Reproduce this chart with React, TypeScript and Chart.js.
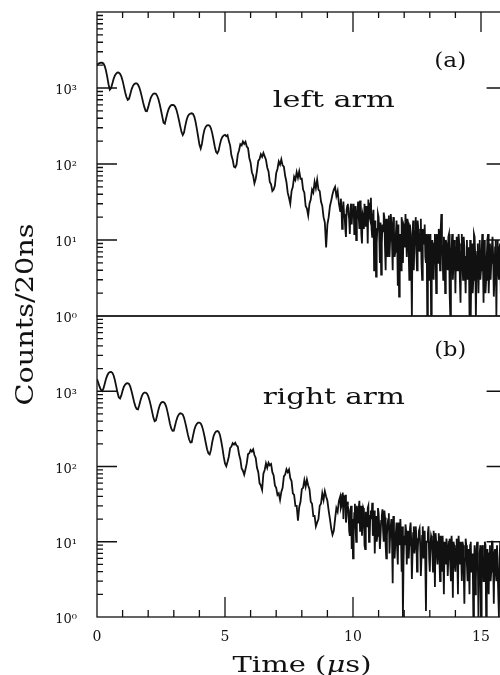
import { useEffect, useRef } from "react";
import { Chart, registerables } from "chart.js";

Chart.register(...registerables);

// ---- data ----
const TIME_START_US = 0;
const TIME_STEP_US = 0.05; // bin spacing used for the hand-read samples
const TAIL_START_US = 9.525; // extra samples read in the noisy tail, between the main ones
const TAIL_STEP_US = 0.05;
const X_MIN = 0;
const X_MAX = 16;
const X_TICK_LABELS = [0, 5, 10, 15];
const Y_MIN = 1;
const Y_MAX = 10000;
const Y_DECADES = [1, 10, 100, 1000];

// counts per 20 ns, panel (a) "left arm"
const LEFT_ARM_COUNTS = [
  2000, 2080, 2130, 2160, 2150, 2100, 1950, 1700, 1400, 1120, 950, 1000, 1150, 1320, 1460, 1550, 1600, 1590, 1540, 1420,
  1250, 1050, 880, 760, 700, 720, 830, 960, 1060, 1120, 1150, 1150, 1110, 1020, 900, 770, 650, 560, 500, 495,
  560, 650, 740, 800, 840, 850, 840, 790, 710, 610, 510, 420, 350, 340, 400, 470, 530, 570, 595, 600,
  595, 570, 520, 450, 380, 315, 265, 240, 260, 320, 380, 425, 450, 462, 465, 455, 420, 360, 290, 230,
  180, 160, 185, 240, 285, 310, 322, 325, 320, 295, 255, 210, 170, 145, 138, 150, 180, 210, 228, 238,
  242, 232, 240, 200, 176, 130, 114, 92, 90, 98, 134, 152, 182, 176, 198, 184, 196, 170, 162, 120,
  104, 78, 70, 56, 64, 82, 110, 116, 134, 124, 140, 126, 114, 90, 80, 58, 54, 44, 46, 52,
  76, 86, 108, 98, 115, 96, 92, 70, 58, 42, 36, 30, 44, 50, 68, 62, 78, 66, 80, 64,
  64, 46, 42, 28, 26, 21, 30, 34, 46, 42, 58, 48, 62, 46, 44, 32, 28, 20, 17, 8,
  16, 20, 28, 33, 40, 46, 50, 38, 44, 30, 24, 27, 18, 22, 14, 25, 30, 19, 26, 16,
  22, 12, 28, 18, 32, 14, 26, 9, 20, 30, 15, 24, 34, 20, 36, 11, 25, 6, 3.3, 14,
  20, 5, 3.5, 16, 23, 8, 19, 6, 21, 10, 17, 4, 14, 7, 18, 2.5, 1.8, 12, 20, 5,
  15, 22, 6, 17, 3, 12, 1, 18, 9, 20, 4, 14, 7, 19, 3, 11, 16, 5, 1, 12,
  8, 1, 10, 3, 12, 2, 9, 14, 4, 22, 6, 11, 2, 9, 4, 12, 1, 8, 3, 10,
  2, 11, 5, 9, 1.5, 12, 3, 8, 2, 10, 4, 1, 1, 9, 3, 11, 1, 7, 2, 10,
  4, 12, 1.5, 8, 3, 10, 2, 9, 5, 11, 1.8, 8, 1, 10, 3, 9, 2, 8, 4, 10,
  3,
];
const LEFT_ARM_TAIL_COUNTS = [
  35, 14, 32, 20, 11, 28, 22, 12, 30, 24,
  30, 16, 10, 24, 20, 33, 12, 22, 14, 18,
  28, 9, 22, 30, 14, 20, 4, 18, 9, 22,
  12, 17, 9, 13, 20, 4, 14, 18, 6, 22,
  9, 20, 6, 12, 10, 16, 7, 4, 9, 16,
  8, 12, 19, 7, 16, 5, 12, 4, 13, 7,
  18, 9, 12, 5, 14, 9, 6, 12, 8, 3,
  12, 6, 4, 9, 7, 12, 5, 10, 13, 9,
  3, 8, 10, 5, 11, 2, 6, 12, 5, 7,
  8, 4, 12, 3, 7, 5, 11, 4, 6, 3,
  8, 10, 5, 2, 12, 6, 4, 9, 5, 3,
  7, 5, 10, 2, 6, 12, 4, 3, 8, 6,
  3, 10, 6, 4, 8, 2, 11, 5, 7, 3,
];

// counts per 20 ns, panel (b) "right arm"
const RIGHT_ARM_COUNTS = [
  1450, 1300, 1150, 1050, 1010, 1080, 1250, 1450, 1620, 1740, 1800, 1810, 1760, 1620, 1400, 1160, 960, 830, 800, 880,
  1020, 1150, 1230, 1270, 1280, 1250, 1150, 1000, 850, 720, 630, 580, 575, 650, 760, 860, 930, 960, 960, 930,
  860, 760, 650, 540, 450, 400, 410, 480, 570, 650, 700, 720, 718, 690, 630, 540, 450, 370, 320, 298,
  300, 350, 410, 460, 495, 510, 505, 490, 445, 380, 320, 265, 228, 208, 210, 255, 305, 345, 370, 382,
  383, 375, 345, 300, 250, 205, 170, 150, 145, 165, 210, 250, 278, 292, 296, 290, 265, 220, 175, 135,
  110, 101, 116, 136, 176, 184, 204, 196, 207, 190, 184, 144, 124, 94, 88, 78, 92, 110, 146, 150,
  166, 158, 169, 142, 130, 96, 84, 60, 56, 49, 80, 90, 110, 96, 112, 104, 108, 84, 76, 56,
  52, 42, 44, 36, 46, 52, 74, 78, 92, 84, 91, 70, 64, 44, 42, 30, 30, 19, 29, 34,
  50, 52, 66, 54, 67, 56, 50, 34, 32, 22, 22, 16, 18, 20, 30, 32, 44, 36, 47, 40,
  35, 26, 20, 15, 12.4, 14, 20, 28, 25, 35, 40, 30, 45, 38, 42, 22, 30, 14, 26, 8,
  6, 24, 15, 30, 18, 35, 22, 12, 28, 9, 25, 16, 30, 11, 26, 33, 14, 7, 22, 12,
  24, 8, 19, 27, 10, 21, 6, 17, 24, 12, 20, 2.8, 15, 9, 18, 5, 14, 20, 4, 1,
  12, 17, 5, 14, 9, 18, 3.2, 13, 7, 16, 4, 11, 15, 3.5, 12, 6, 14, 1.2, 10, 16,
  4, 12, 7, 14, 2.5, 10, 5, 13, 3, 9, 12, 2, 8, 11, 3.5, 10, 5, 12, 1.8, 9,
  4, 11, 2, 8, 10, 3, 9, 1.5, 11, 5, 8, 2, 10, 4, 1, 9, 3, 10, 1, 7,
  1, 9, 3, 10, 1, 8, 2, 9, 4, 10, 1.5, 8, 3, 9, 1, 10, 2.5, 8, 1.2, 9,
  3,
];
const RIGHT_ARM_TAIL_COUNTS = [
  28, 42, 20, 36, 18, 34, 26, 12, 30, 20,
  14, 32, 10, 20, 28, 14, 30, 18, 26, 8,
  18, 28, 10, 22, 20, 12, 26, 18, 10, 28,
  16, 12, 22, 14, 26, 9, 12, 20, 7, 16,
  10, 22, 6, 13, 8, 18, 9, 12, 16, 6,
  9, 14, 11, 6, 15, 10, 7, 16, 9, 12,
  7, 14, 9, 6, 16, 9, 5, 10, 13, 6,
  9, 11, 4, 8, 13, 7, 10, 6, 12, 4,
  7, 10, 5, 9, 6, 11, 3, 8, 10, 5,
  8, 6, 12, 5, 7, 10, 4, 6, 9, 3,
  6, 9, 4, 7, 5, 2, 8, 6, 4, 9,
  5, 7, 3, 9, 6, 4, 7, 3, 10, 5,
  7, 4, 9, 2, 6, 8, 3, 9, 5, 6,
];

const PANEL_LABELS = ["(a)", "(b)"];
const ARM_LABELS = ["left arm", "right arm"];
const X_TITLE = ["Time (", "μ", "s)"];
const Y_TITLE = "Counts/20ns";

// ---- style ----
const INK = "#111";
const SERIF = "'DejaVu Serif', 'Liberation Serif', serif";

const SUP: Record<string, string> = {
  "0": "⁰", "1": "¹", "2": "²", "3": "³", "4": "⁴", "5": "⁵", "6": "⁶", "7": "⁷", "8": "⁸", "9": "⁹",
};
const powerLabel = (v: number) => {
  if (!Y_DECADES.includes(v)) return "";
  const e = Math.round(Math.log10(v));
  return "10" + String(e).split("").map((d) => SUP[d]).join("");
};

function drawStretched(
  ctx: CanvasRenderingContext2D,
  text: string,
  cx: number,
  baseline: number,
  font: string,
  targetWidth: number
) {
  ctx.save();
  ctx.font = font;
  const w = ctx.measureText(text).width;
  ctx.translate(cx, baseline);
  ctx.scale(targetWidth / w, 1);
  ctx.textAlign = "center";
  ctx.textBaseline = "alphabetic";
  ctx.fillText(text, 0, 0);
  ctx.restore();
}

const frameTextPlugin = {
  id: "frameText",
  afterDatasetsDraw(chart: any) {
    const ctx: CanvasRenderingContext2D = chart.ctx;
    const xs = chart.scales.x;
    const panels = [chart.scales.yTop, chart.scales.yBot];
    const L = chart.chartArea.left;
    const R = chart.chartArea.right;
    ctx.save();
    ctx.strokeStyle = INK;
    ctx.fillStyle = INK;
    ctx.lineWidth = 1.3;
    panels.forEach((ys: any, pi: number) => {
      const T = ys.top;
      const B = ys.bottom;
      ctx.strokeRect(L, T, R - L, B - T);
      ctx.beginPath();
      for (let k = 0; k < 4; k++) {
        for (let m = 1; m <= 9; m++) {
          const v = m * Math.pow(10, k);
          if (v <= Y_MIN) continue;
          const py = ys.getPixelForValue(v);
          const len = m === 1 ? 20 : 6;
          ctx.moveTo(L, py);
          ctx.lineTo(L + len, py);
          ctx.moveTo(R, py);
          ctx.lineTo(R - len, py);
        }
      }
      for (let t = X_MIN + 1; t < X_MAX; t++) {
        const px = xs.getPixelForValue(t);
        const len = t % 5 === 0 ? 20 : pi === 0 ? 6 : 7;
        if (pi === 0) {
          ctx.moveTo(px, T);
          ctx.lineTo(px, T + len);
        } else {
          ctx.moveTo(px, B);
          ctx.lineTo(px, B - len);
        }
      }
      ctx.stroke();

      // annotations
      const labelX = xs.getPixelForValue(13.8);
      const labelY = ys.getPixelForValue(pi === 0 ? 1900 : 2900);
      drawStretched(ctx, PANEL_LABELS[pi], labelX, labelY, `20px ${SERIF}`, 32);
      const armX = xs.getPixelForValue(9.25);
      const armY = ys.getPixelForValue(pi === 0 ? 560 : 670);
      drawStretched(ctx, ARM_LABELS[pi], armX, armY, `23px ${SERIF}`, pi === 0 ? 122 : 142);
    });

    // y title (rotated)
    const midY = (panels[0].top + panels[1].bottom) / 2;
    ctx.save();
    ctx.translate(33, midY);
    ctx.rotate(-Math.PI / 2);
    ctx.font = `25px ${SERIF}`;
    const yw = ctx.measureText(Y_TITLE).width;
    ctx.scale(182 / yw, 1);
    ctx.textAlign = "center";
    ctx.textBaseline = "alphabetic";
    ctx.fillText(Y_TITLE, 0, 0);
    ctx.restore();

    // x title with italic mu
    const fonts = [`22px ${SERIF}`, `italic 22px ${SERIF}`, `22px ${SERIF}`];
    let total = 0;
    const widths = X_TITLE.map((s, i) => {
      ctx.font = fonts[i];
      const w = ctx.measureText(s).width;
      total += w;
      return w;
    });
    const target = 139;
    const sx = target / total;
    ctx.save();
    ctx.translate(302 - target / 2, 672);
    ctx.scale(sx, 1);
    ctx.textAlign = "left";
    ctx.textBaseline = "alphabetic";
    let cur = 0;
    X_TITLE.forEach((s, i) => {
      ctx.font = fonts[i];
      ctx.fillText(s, cur, 0);
      cur += widths[i];
    });
    ctx.restore();
    ctx.restore();
  },
};

export default function App() {
  const ref = useRef<HTMLCanvasElement | null>(null);

  useEffect(() => {
    if (!ref.current) return;
    const toPoints = (main: number[], tail: number[]) =>
      main
        .map((c, i) => ({ x: TIME_START_US + i * TIME_STEP_US, y: c }))
        .concat(tail.map((c, j) => ({ x: TAIL_START_US + j * TAIL_STEP_US, y: c })))
        .sort((a, b) => a.x - b.x);

    const yScale = (weight: number) => ({
      type: "logarithmic" as const,
      min: Y_MIN,
      max: Y_MAX,
      position: "left" as const,
      stack: "panels",
      stackWeight: weight,
      offset: false,
      grid: { display: false, drawTicks: false },
      border: { display: false },
      ticks: {
        autoSkip: false,
        padding: 20,
        labelOffset: 3,
        color: INK,
        font: { family: SERIF, size: 13 },
        callback: (v: any) => powerLabel(Number(v)),
      },
      afterFit: (s: any) => {
        s.width = 97;
        s.paddingTop = 0;
        s.paddingBottom = 0;
      },
    });

    const lineStyle = {
      borderColor: INK,
      borderWidth: 1.8,
      borderJoinStyle: "miter" as const,
      pointRadius: 0,
      fill: false,
      tension: 0,
    };

    const chart = new Chart(ref.current, {
      type: "line",
      data: {
        datasets: [
          {
            label: ARM_LABELS[0],
            data: toPoints(LEFT_ARM_COUNTS, LEFT_ARM_TAIL_COUNTS),
            yAxisID: "yTop",
            xAxisID: "x",
            ...lineStyle,
          },
          {
            label: ARM_LABELS[1],
            data: toPoints(RIGHT_ARM_COUNTS, RIGHT_ARM_TAIL_COUNTS),
            yAxisID: "yBot",
            xAxisID: "x",
            ...lineStyle,
          },
        ],
      },
      options: {
        responsive: false,
        maintainAspectRatio: false,
        animation: false,
        devicePixelRatio: 1,
        layout: { padding: { top: 12, right: 13.4, bottom: 0, left: 0 } },
        plugins: {
          legend: { display: false },
          tooltip: { enabled: false },
          title: { display: false },
        },
        scales: {
          x: {
            type: "linear",
            min: X_MIN,
            max: X_MAX,
            position: "bottom",
            grid: { display: false, drawTicks: false },
            border: { display: false },
            ticks: {
              stepSize: 5,
              includeBounds: false,
              autoSkip: false,
              maxRotation: 0,
              padding: 12,
              color: INK,
              font: { family: SERIF, size: 14 },
              callback: (v: any) => (X_TICK_LABELS.includes(Number(v)) ? String(v) : ""),
            },
            afterFit: (s: any) => {
              s.height = 58;
              s.paddingLeft = 0;
              s.paddingRight = 0;
            },
          },
          // stacked panels are laid out bottom-first: list the lower panel first
          yBot: yScale(1),
          yTop: yScale(1.01),
        } as any,
      },
      plugins: [frameTextPlugin],
    } as any);
    return () => chart.destroy();
  }, []);

  return (
    <div
      style={{
        position: "fixed",
        left: 0,
        top: 0,
        width: 500,
        height: 675,
        overflow: "hidden",
        background: "#fff",
      }}
    >
      <canvas ref={ref} width={520} height={675} style={{ display: "block" }} />
    </div>
  );
}
